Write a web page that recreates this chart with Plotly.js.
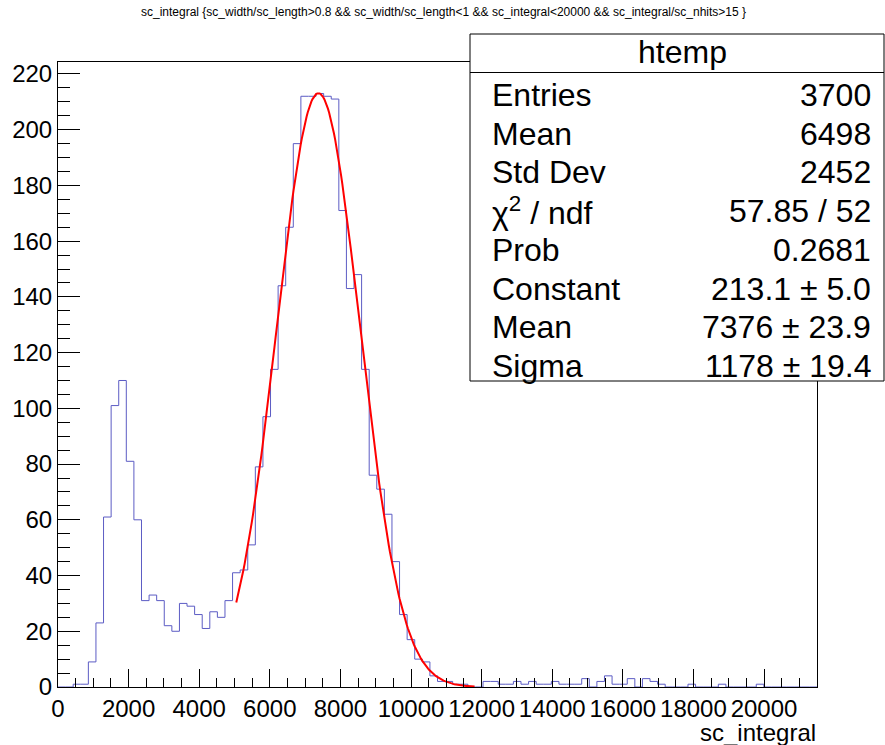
<!DOCTYPE html>
<html>
<head>
<meta charset="utf-8">
<script src="https://cdn.plot.ly/plotly-3.0.1.min.js"></script>
<style>html,body{margin:0;padding:0;background:#fff;}#chart{width:885px;height:745px;}</style>
</head>
<body>
<div id="chart"></div>
<script>
// ---- data ----
const xMin = 0;
const binWidth = 215;
const counts = [
  0, 0, 1, 1, 9, 23, 61, 101, 110, 81,
  60, 31, 33, 31, 22, 20, 30, 29, 26, 21,
  27, 25, 31, 41, 42, 51, 79, 97, 114, 144,
  165, 195, 212, 212, 213, 212, 211, 171, 143, 148,
  114, 76, 71, 62, 45, 26, 17, 10, 9, 4,
  2, 2, 1, 1, 0, 0, 2, 2, 1, 1,
  2, 1, 2, 1, 1, 2, 1, 1, 1, 3,
  0, 2, 4, 1, 1, 3, 0, 3, 2, 1,
  0, 0, 0, 1, 0, 0, 0, 1, 0, 0,
  0, 0, 1, 0, 0, 0, 0, 0, 0, 0
];
const xTickVals = [0, 2000, 4000, 6000, 8000, 10000, 12000, 14000, 16000, 18000, 20000];
const yTickVals = [0, 20, 40, 60, 80, 100, 120, 140, 160, 180, 200, 220];
// fit parameters (gaus) shown in the stats box
const fitConstant = 213.1, fitMean = 7376, fitSigma = 1178;
const fitRange = [5050, 11800];
const statsLabels = ["Entries", "Mean", "Std Dev", "\u03c7<sup>2</sup> / ndf", "Prob", "Constant", "Mean", "Sigma"];
const statsValues = ["3700", "6498", "2452", "57.85 / 52", "0.2681", "213.1 \u00b1 5.0", "7376 \u00b1 23.9", "1178 \u00b1 19.4"];
const titleText = "sc_integral {sc_width/sc_length&gt;0.8 &amp;&amp; sc_width/sc_length&lt;1 &amp;&amp; sc_integral&lt;20000 &amp;&amp; sc_integral/sc_nhits&gt;15 }";

// ---- build traces ----
const edges = [];
for (let i = 0; i <= counts.length; i++) edges.push(xMin + i * binWidth);
const stepY = counts.concat([counts[counts.length - 1]]);

const fitX = [], fitY = [];
const nFit = 200;
for (let i = 0; i <= nFit; i++) {
  const x = fitRange[0] + (fitRange[1] - fitRange[0]) * i / nFit;
  fitX.push(x);
  fitY.push(fitConstant * Math.exp(-0.5 * Math.pow((x - fitMean) / fitSigma, 2)));
}

const FONT = "Liberation Sans, Arial, Helvetica, sans-serif";
const W = 885, H = 745;
const M = {l: 58, r: 68, t: 62, b: 58};
const PW = W - M.l - M.r, PH = H - M.t - M.b;
const px = p => (p - M.l) / PW;
const py = p => (H - M.b - p) / PH;

const traces = [
  {x: edges, y: stepY, type: 'scatter', mode: 'lines', line: {shape: 'hv', color: '#5c5cc4', width: 1}, hoverinfo: 'skip'},
  {x: fitX, y: fitY, type: 'scatter', mode: 'lines', line: {color: '#ff0000', width: 2}, hoverinfo: 'skip'}
];

const box = {x0: 470, x1: 884, y0: 34, y1: 381, head: 72.5};
const shapes = [
  {type: 'rect', xref: 'paper', yref: 'paper', x0: px(box.x0), x1: px(box.x1), y0: py(box.y1), y1: py(box.y0),
   line: {color: '#000', width: 1}, fillcolor: '#fff', layer: 'above'},
  {type: 'line', xref: 'paper', yref: 'paper', x0: px(box.x0), x1: px(box.x1), y0: py(box.head), y1: py(box.head),
   line: {color: '#000', width: 1}, layer: 'above'}
];

const SF = 32;
const annotations = [
  {text: titleText, xref: 'paper', yref: 'paper', x: px(443), y: py(12), xanchor: 'center', yanchor: 'middle',
   showarrow: false, font: {family: FONT, size: 12, color: '#000'}},
  {text: 'htemp', xref: 'paper', yref: 'paper', x: px(682), y: py(52), xanchor: 'center', yanchor: 'middle',
   showarrow: false, font: {family: FONT, size: SF, color: '#000'}},
  {text: 'sc_integral', xref: 'paper', yref: 'paper', x: px(818), y: py(732), xanchor: 'right', yanchor: 'middle',
   showarrow: false, font: {family: FONT, size: 24, color: '#000'}}
];
const rowY0 = 95, rowStep = 38.7;
statsLabels.forEach((lab, i) => {
  annotations.push({text: lab, xref: 'paper', yref: 'paper', x: px(490), y: py(rowY0 + i * rowStep),
    xanchor: 'left', yanchor: 'middle', showarrow: false, font: {family: FONT, size: SF, color: '#000'}});
  annotations.push({text: statsValues[i], xref: 'paper', yref: 'paper', x: px(873), y: py(rowY0 + i * rowStep),
    xanchor: 'right', yanchor: 'middle', showarrow: false, font: {family: FONT, size: SF, color: '#000'}});
});

const layout = {
  width: W, height: H,
  margin: M,
  paper_bgcolor: '#fff', plot_bgcolor: '#fff',
  showlegend: false,
  font: {family: FONT, color: '#000'},
  xaxis: {
    range: [xMin, xMin + binWidth * counts.length],
    tickvals: xTickVals, ticktext: xTickVals.map(String),
    tickangle: 0,
    ticks: 'inside', ticklen: 18, tickwidth: 1, tickcolor: '#000',
    minor: {dtick: 500, tick0: 0, ticks: 'inside', ticklen: 9, tickcolor: '#000', tickwidth: 1, showgrid: false},
    showline: true, linecolor: '#000', linewidth: 1, mirror: true,
    showgrid: false, zeroline: false,
    tickfont: {family: FONT, size: 24, color: '#000'},
    ticklabelstandoff: 0
  },
  yaxis: {
    range: [0, 224.3],
    tickvals: yTickVals, ticktext: yTickVals.map(String),
    ticks: 'inside', ticklen: 22, tickwidth: 1, tickcolor: '#000',
    minor: {dtick: 5, tick0: 0, ticks: 'inside', ticklen: 12, tickcolor: '#000', tickwidth: 1, showgrid: false},
    showline: true, linecolor: '#000', linewidth: 1, mirror: true,
    showgrid: false, zeroline: false,
    tickfont: {family: FONT, size: 24, color: '#000'},
    ticklabelstandoff: 0
  },
  shapes: shapes,
  annotations: annotations
};

Plotly.newPlot('chart', traces, layout, {displayModeBar: false, staticPlot: true});
</script>
</body>
</html>
